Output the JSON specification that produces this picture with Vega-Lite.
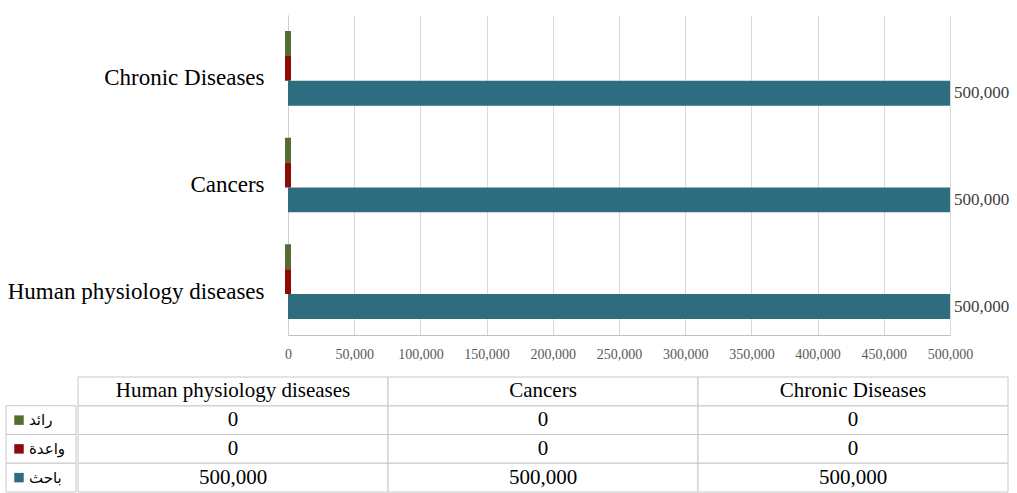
{
  "$schema": "https://vega.github.io/schema/vega-lite/v6.json",
  "background": "white",
  "padding": {"left": 5, "top": 15, "right": 0, "bottom": 0},
  "config": {"font": "Liberation Serif", "view": {"stroke": null}},
  "datasets": {
    "main": [
      {"category": "Human physiology diseases", "series": "رائد", "value": 0},
      {"category": "Human physiology diseases", "series": "واعدة", "value": 0},
      {"category": "Human physiology diseases", "series": "باحث", "value": 500000},
      {"category": "Cancers", "series": "رائد", "value": 0},
      {"category": "Cancers", "series": "واعدة", "value": 0},
      {"category": "Cancers", "series": "باحث", "value": 500000},
      {"category": "Chronic Diseases", "series": "رائد", "value": 0},
      {"category": "Chronic Diseases", "series": "واعدة", "value": 0},
      {"category": "Chronic Diseases", "series": "باحث", "value": 500000}
    ]
  },
  "spacing": 15,
  "vconcat": [
    {
      "spacing": 0,
      "hconcat": [
        {
          "width": 1,
          "height": 320,
          "data": {"values": [{}]},
          "mark": {"type": "text"},
          "encoding": {"text": {"value": ""}}
        },
        {
          "width": 662,
          "height": 320,
          "data": {"name": "main"},
          "encoding": {
            "y": {
              "field": "category", "type": "nominal", "title": null,
              "sort": ["Chronic Diseases", "Cancers", "Human physiology diseases"],
              "scale": {"paddingInner": 0.3, "paddingOuter": 0.15},
              "axis": {"labelFontSize": 23, "labelColor": "#000000", "labelPadding": 24, "ticks": false, "domainColor": "#d0d0d0", "labelOffset": 10, "labelLimit": 400}
            },
            "yOffset": {"field": "series", "type": "nominal", "sort": ["رائد", "واعدة", "باحث"], "scale": {"paddingInner": 0, "paddingOuter": 0}},
            "x": {
              "field": "value", "type": "quantitative", "title": null,
              "scale": {"domain": [0, 500000]},
              "axis": {"values": [0, 50000, 100000, 150000, 200000, 250000, 300000, 350000, 400000, 450000, 500000], "format": ",.0f", "labelFontSize": 14, "labelColor": "#595959", "labelOverlap": false, "labelFlush": false, "ticks": false, "gridColor": "#d9d9d9", "domainColor": "#bfbfbf", "labelPadding": 12}
            }
          },
          "layer": [
            {
              "mark": {"type": "bar"},
              "encoding": {
                "color": {"field": "series", "type": "nominal", "scale": {"domain": ["رائد", "واعدة", "باحث"], "range": ["#546B32", "#8E0A0A", "#2E6C7F"]}, "legend": null},
                "stroke": {"field": "series", "type": "nominal", "scale": {"domain": ["رائد", "واعدة", "باحث"], "range": ["#546B32", "#8E0A0A", "#2E6C7F"]}, "legend": null},
                "strokeWidth": {"condition": {"test": "datum.value === 0", "value": 6}, "value": 0}
              }
            },
            {
              "transform": [{"filter": "datum.value > 0"}],
              "mark": {"type": "text", "align": "left", "dx": 4, "fontSize": 17, "color": "#404040"},
              "encoding": {"text": {"field": "value", "type": "quantitative", "format": ",.0f"}}
            }
          ]
        }
      ]
    },
    {
      "spacing": 0,
      "hconcat": [
        {
          "width": 70,
          "height": 115,
          "data": {"name": "main"},
          "transform": [{"aggregate": [{"op": "count", "as": "n"}], "groupby": ["series"]}],
          "encoding": {
            "y": {"field": "series", "type": "nominal", "scale": {"domain": ["hdr", "رائد", "واعدة", "باحث"], "paddingInner": 0, "paddingOuter": 0}, "axis": null}
          },
          "layer": [
            {"mark": {"type": "rect", "fill": "white", "stroke": "#c8c8c8", "strokeWidth": 1}},
            {
              "mark": {"type": "point", "shape": "square", "filled": true, "size": 90, "opacity": 1, "xOffset": -22},
              "encoding": {"color": {"field": "series", "type": "nominal", "scale": {"domain": ["رائد", "واعدة", "باحث"], "range": ["#76923C", "#C00000", "#31849B"]}, "legend": null}}
            },
            {
              "mark": {"type": "text", "align": "left", "dx": -12, "font": "DejaVu Sans", "fontSize": 15, "color": "#000000"},
              "encoding": {"text": {"field": "series", "type": "nominal"}}
            }
          ]
        },
        {
          "width": 930,
          "height": 115,
          "data": {"name": "main"},
          "encoding": {
            "x": {"field": "category", "type": "nominal", "sort": ["Human physiology diseases", "Cancers", "Chronic Diseases"], "scale": {"paddingInner": 0, "paddingOuter": 0}, "axis": null}
          },
          "layer": [
            {
              "mark": {"type": "rect", "fill": "white", "stroke": "#c8c8c8", "strokeWidth": 1},
              "encoding": {"y": {"field": "series", "type": "nominal", "scale": {"domain": ["hdr", "رائد", "واعدة", "باحث"], "paddingInner": 0, "paddingOuter": 0}, "axis": null}}
            },
            {
              "transform": [{"aggregate": [{"op": "count", "as": "n"}], "groupby": ["category"]}],
              "layer": [
                {"mark": {"type": "rect", "fill": "white", "stroke": "#c8c8c8", "strokeWidth": 1}, "encoding": {"y": {"datum": "hdr", "type": "nominal"}}},
                {"mark": {"type": "text", "fontSize": 21, "color": "#000000"}, "encoding": {"y": {"datum": "hdr", "type": "nominal"}, "text": {"field": "category", "type": "nominal"}}}
              ]
            },
            {
              "mark": {"type": "text", "fontSize": 21, "color": "#000000"},
              "encoding": {"y": {"field": "series", "type": "nominal"}, "text": {"field": "value", "type": "quantitative", "format": ",.0f"}}
            }
          ]
        }
      ]
    }
  ]
}
